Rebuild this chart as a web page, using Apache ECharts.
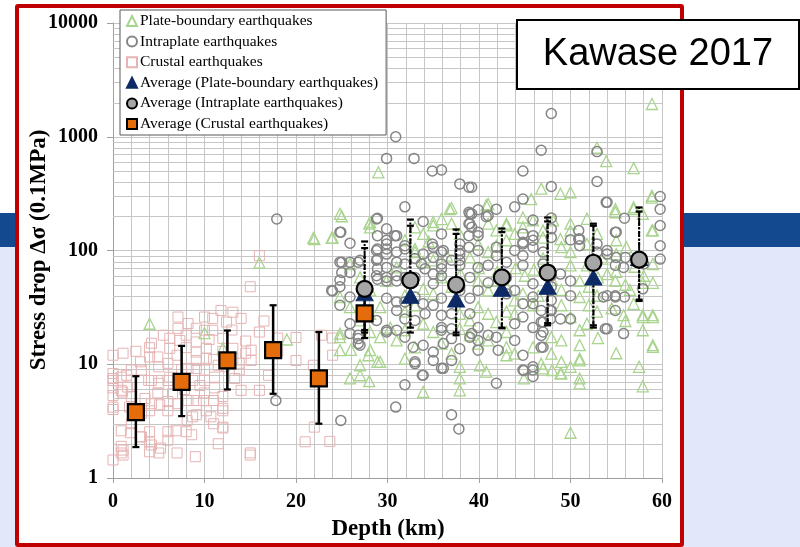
<!DOCTYPE html>
<html>
<head>
<meta charset="utf-8">
<script src="https://cdn.jsdelivr.net/npm/echarts@6/dist/echarts.min.js"></script>
<style>
html,body{margin:0;padding:0;width:800px;height:547px;overflow:hidden;}
body{background:linear-gradient(to bottom,#ffffff 0px,#ffffff 213px,#134a8f 213px,#134a8f 247px,#e2e8fa 247px,#e2e8fa 547px);}
#frame{position:absolute;left:15px;top:4px;width:669px;height:543px;border:4.5px solid #c00000;border-radius:3px;box-sizing:border-box;background:#ffffff;}
#chart{position:absolute;left:0;top:0;width:800px;height:547px;}
</style>
</head>
<body>
<div id="frame"></div>
<div id="chart"></div>
<script>
// ---------- data ----------
const xTicks = [0, 10, 20, 30, 40, 50, 60];
const yTicks = [1, 10, 100, 1000, 10000];
const minorGridValues = [2,3,4,5,6,7,8,9,20,30,40,50,60,70,80,90,200,300,400,500,600,700,800,900,2000,3000,4000,5000,6000,7000,8000,9000];

const crustalPoints = [
[0,1.44],[1.1,1.59],[1.1,1.76],[0,4.0],[0,5.3],[0,6.2],[0,7.2],[1.05,5.7],[1.9,2.5],[3.0,2.3],[4.0,2.55],[4.0,2.08],[4,1.7],[5.0,1.66],[6.0,2.15],[6,2.55],[7,1.66],[8,2.55],[9,1.54],[11,3.0],[12,2.75],[15,1.59],[16,5.9],[10.2,3.9],[12,4.1],[11,4.8],[9.9,4.8],[9.1,3.6],[8.1,3.2],[5.1,4.4],[4,3.9],[6,4.7],[5,6.8],[3.9,7.2],[6.2,7.7],[1.5,8.0],[0,8.3],[23.7,2.1],[21,2.08],[22,2.8],
[4.2,15.3],[1.1,12.5],[0,12],[7.1,26],[8.2,22.8],[9.1,20.7],[10,26],[11.8,29.7],[13.1,28.7],[14,25.3],[12.4,23.5],[16,19.2],[20,17.2],[15.1,13.3],[15.1,10.8],[13.8,10.2],[13.8,8.9],[12,3.9],[12,2.8],[6.9,2.6],[4,14],[4,11.6],[4.9,11.6],[3.1,8.9],[2,8.9],[0.9,7.7],[0.9,5.9],[0,7.5],[0,4.2],[4.2,7.2],[4.9,5.6],[4.2,4.5],[6,7.2],[6,10.2],[6.2,13.8],[6.2,16.9],[7.1,20.7],[7.3,16.2],[9.1,15.7],[9.1,12.8],[10.2,13.8],[10.2,11.3],[9.1,10.8],[9.1,9.2],[8.2,9.2],[10,8.9],[10,7.2],[11.1,7.7],[11.1,6.2],[10,5.6],[9.1,4.8],[8.2,4.8],[8.7,3.45],[10.7,3.45],[12,5.2],[13.1,13.8],[13.1,11.3],[12,16.9],[10.9,19.9],[10.9,25.3],[10,19.9],[8,18],[12.2,9.5],[13.3,7.5],[14,5.9],[8.7,7.2],[7.1,4.5],[6,3.9],[3.1,3.7],[2,3.0],[0.9,2.6],[0.9,1.9],[0.9,1.66],[3.1,2.3],[4.2,1.95],[5.2,1.83],[8.6,2.4],[11.5,2.0],[1.6,6.3],[2,5.2],
[15,48],[16,90],[20,10.8],[21.9,9.8],[24,12],[22.8,18],[24,17],[15,1.66],
[5,9.5],[7,12],[8,14],[11,11],[12,13],[7.5,9],[9.5,6.5],[11.5,9.8],[3,10.5],[2.5,13],[5.5,18],[14.5,16],[13,20],[6.5,5.5],[7.8,6],[3.5,5],[1.8,4.2],[10.5,16.5],[14.5,12.5],[16.5,24],[18,17],[17,8],[18,13]
];

const intraplatePoints = [
[17.9,189],[17.8,4.8],[24.9,3.2],[30.9,4.2],[31.9,6.6],
[26.8,16.8],[27,14.7],[25.9,22.7],[25.9,18.6],[29.9,19.2],[31,19.9],[32.8,14.1],[33,10.1],[33.9,8],[35.9,9.2],[37,10.8],[35,12.8],[35.9,19.9],[37,3.6],[37.8,2.7],
[41.9,6.8],[45.9,7.8],[44.9,8.8],[33.8,8.0],
[44.8,8.9],[45.9,9.5],[44.8,12],[46.8,14.1],[46.8,17.9],[39.9,13.3],[39.9,16.2],[41.9,17.3],[39.2,18.6],[54.9,29.7],[53.8,20.5],[55.8,18.6],[50,25],[48.9,25],[47.8,25],[47.8,29.7],[46.8,23.5],[46.8,29.7],[45.9,34],[44.8,26],[57.9,46],[53.6,39],[54.9,39],[55.9,39],
[47.9,1600],[46.8,760],[52.9,740],[52.9,405],[44.8,500],[47.9,365],[53.9,265],[39.2,360],[44.8,283],[43.9,242],[45.9,185],[47.9,193],[55.9,192],[55,145],[59.8,298],[59.8,231],[59.8,166],[59.8,110],[58,76],[39.9,228],[40.8,198],[41.9,231],[39.2,210],[39.2,160],[39.9,135],[44.8,140],[44.8,118],[47.9,130],[47.9,155],[50.9,150],[50.9,126],[45.9,123],[45.9,107],[41.9,107],[39.9,100],[50,124],[54,93],[55,87],[56,87],[59.8,84],
[30.9,1000],[29.9,645],[32.9,645],[34.9,500],[35.9,510],[37.9,385],[38.9,360],[31.9,242],[33.9,180],[28.9,192],[29.9,155],[31,135],[24.9,145],[25.9,116],[25,79],[25.9,79],[26.8,79],[24.8,55],[24,44],[28.9,135],[28.9,103],[29.9,114],[29.9,93],[28.9,84],[28.9,69],[29.9,71],[31,79],[31,60],[29.9,54],[28.9,56],[33.9,93],[34.9,114],[35.9,140],[35.9,97],[35.9,76],[35.9,60],[37.9,100],[37.9,82],[37.9,48],[38.9,217],[38.9,172],[38.9,135],[38.9,107],[35,87],[31.9,103],[33.7,76],[31,97],[25,64],[25.9,64],
[31.9,110],[33,85],[35,107],[36.1,100],[35,62],[35,51],[35.9,38],[33.9,34],[33,24.3],[35.9,27],[35.9,21],[37,16.8],[37.9,13.7],[39,17.3],[39,27.8],[39.9,21],[41,18],[43.9,44.6],[44.8,34],[45.9,39],[45.9,51],[44.8,74],[44.8,90],[44.8,114],[45.9,135],[47,97],[47,76],[47.9,60],[47.9,48],[47.9,36.5],[47.9,29.7],[47,23.5],[47,19.2],[47,14.1],[45.9,8.9],[50,40],[50,54],[48.9,62],[51,126],[51,110],[52.9,97],[52.9,114],[54,100],[54,40],[54.9,40],[54,20.5],[54.9,74],[55.8,71],[54.9,145],[54,265],[41,202],[39,210],[39,172],[39.9,145],[37.9,114],[37.9,93],[37.9,74],[39,58],[39.9,71],[41,74],[41,52],[39.9,44.6],[39,38],[43,41.6],[43.9,100],[43,79],[41.9,90],[43,58],[45.9,21],[43.9,22.7],[43.9,16.2],[42.1,13.3],[36.1,15.2],[35,10.8],[36.1,9.2],[33,10.5],[33.9,14.7],[31.9,17.3],[31.9,25],[31.9,35.3],[34.1,27.8],[35,33],[37,27.8],[37,20.5],[37.9,44.6],[37,82],[35.9,69],[34.1,69],[33,58],[33,39],[31.9,58],[31.9,76],
[24.8,145],[28.8,189],[30.8,135],[24.8,79],[27,82],[23.9,44.6],[24.8,48],[24.8,33],[25.9,39],[26.8,18],[26.8,15.2],[28.8,100],[29.9,103],[29.9,123],[28.8,82],[28.8,60],[29.9,58],[31,54],[29.9,38],[31,35.3],[31,29.7],[29.9,19.9],[28.8,24.3]
];

const plateBoundaryPoints = [
[4,22.7],[10,18.8],[12,13.8],[19,16.5],[16,78],[21.9,129],[23.9,129],[24.8,210],[28,172],
[25.9,7.5],[27,8.0],[28,7.1],[27.9,12],[28.9,10.5],[33.9,5.7],[31.9,11.2],[26,13.4],[24.8,17.3],[37.9,7.5],[37.9,5.9],
[51,7.5],[51,6.8],[50,2.5],[57.9,6.4],[40.8,8.6],[44.9,7.5],[49,8.3],
[51,11.2],[59,14.2],[57.9,19.9],[57.9,27],[59,27],[48.9,8.3],[48,8.9],[46.8,10.1],[43,12],[40.1,9.8],[51,19.9],
[58.9,1940],[53.9,610],[56.9,530],[52.9,800],[46.8,350],[48.9,315],[50,325],[45.7,283],[58.9,292],[56.9,240],[54.9,217],[57.9,210],[44.8,195],[43,166],[51.8,190],[50,172],[40.8,250],[58.9,150],[52.9,140],[47,130],[48.9,126],
[29,487],[25,200],[22,126],[24,130],[37,236],[35,178],[28.1,160],[28.1,178],[33,103],[39,87],[29.9,54],
[36.8,231],[41,256],[54.9,231],[56.9,231],[58.9,303],[59,150],[59,76],[57.9,52],[59,52],[57.9,26],[59,26],[59,14.7],[56.9,34],[55.8,27],[54.9,54],[54,62],[55,123],[56.1,107],[55,93],[51.8,114],[51.8,74],[51,54],[51,39],[52.9,40],[52.9,29],[51.8,22.7],[51,14.7],[50,26],[49,33],[50,74],[50,97],[49,107],[50,150],[48.1,184],[47,150],[45.9,184],[44.8,160],[43.9,140],[43,172],[41.9,150],[41,172],[43,123],[41.9,110],[41,97],[39.9,114],[37.9,140],[37,172],[35.9,189],[35,166],[33.9,140],[33,160],[31.9,123],[33,97],[33.9,79],[35,82],[35.9,58],[37,48],[39.9,54],[41,44.6],[41.9,54],[43,48],[43.9,36.5],[44.8,41.6],[45.9,33],[43.9,27.8],[43,29],[41.9,23.5],[41,27.8],[39.9,31.8],[39,24.3],[37.9,27.8],[37.9,20.5],[39,18],[39.9,15.2],[41,16.2],[43,19.2],[43,14.1],[43.9,12.4],[45.9,14.1],[47.9,17.3],[49,16.2],[47.9,12.4],[49,10.5],[47,9.2],[50,9.5],[51,10.8],[35,41.6],[33.9,46],[31.9,40],[33,33],[31.9,29],[33.9,22.7],[35,19.2],[35.9,15.2],[37,12.4],[37.9,9.5],[33,14.1],[31.9,19.9],
[25.9,76],[27,58],[28.1,44.6],[31,71],[24.8,39],[25.9,31.8],[28.1,27.8],[29.2,31.8],[27,24.3],[24.8,18.6],[28.1,19.2],[29.2,17.3],[30.3,21],[31,16.2],[28.1,13.3],[29.2,10.5],[27,9.8],[24.8,13.3],
[45,60],[46,68],[48,55],[49,45],[52,48],[53,58],[55,65],[56,50],[57,72],[58,60],[56.5,45],[53.5,85],[47,85],[44,70],[42,65],[40,70],[38,62],[36.5,90],[34.5,120],[46.5,40],[52,33],[54.5,31],[56,24],[53,17],[55,12.5],[57.5,9.5]
];

// averages and error bars
const crustalDepths = [2.5, 7.5, 12.5, 17.5, 22.5, 27.5];
const crustalAvg    = [3.8, 7.0, 10.8, 13.3, 7.5, 28];
const crustalLow    = [1.87, 3.5, 6.0, 5.5, 3.0, 17];
const crustalHigh   = [7.85, 14.5, 19.8, 33, 19.2, 45];

const deepDepths    = [27.5, 32.5, 37.5, 42.5, 47.5, 52.5, 57.5];
const intraAvg      = [46, 54.6, 50, 58, 64, 78, 83];
const intraLow      = [20, 19, 18, 20.7, 22, 21, 36];
const intraHigh     = [120, 187, 153, 156, 195, 172, 239];
const plateAvg      = [42, 40, 37, 46, 48, 58, 86];
const plateLow      = [19, 21, 19, 21, 23, 22, 37];
const plateHigh     = [105, 165, 140, 145, 180, 165, 220];

// ---------- chart ----------
const chart = echarts.init(document.getElementById('chart'), null, {renderer: 'canvas'});
const GRID = '#c6c6c6';
const serif = '"Liberation Serif", "Times New Roman", serif';

function pairs(xs, ys) { return xs.map((x, i) => [x, ys[i]]); }
function triples(xs, lo, hi) { return xs.map((x, i) => [x, lo[i], hi[i]]); }

function errorRenderer(lineWidth, dash) {
  return function (params, api) {
    const x = api.value(0);
    const pLo = api.coord([x, api.value(1)]);
    const pHi = api.coord([x, api.value(2)]);
    const cap = 3.5;
    const st = {stroke: '#000', lineWidth: lineWidth, lineDash: dash};
    const capSt = {stroke: '#000', lineWidth: 2.2};
    return {
      type: 'group',
      children: [
        {type: 'line', shape: {x1: pLo[0], y1: pLo[1], x2: pHi[0], y2: pHi[1]}, style: st},
        {type: 'line', shape: {x1: pLo[0] - cap, y1: pLo[1], x2: pLo[0] + cap, y2: pLo[1]}, style: capSt},
        {type: 'line', shape: {x1: pHi[0] - cap, y1: pHi[1], x2: pHi[0] + cap, y2: pHi[1]}, style: capSt}
      ]
    };
  };
}

const hollow = 'rgba(255,255,255,0)';

const option = {
  animation: false,
  grid: {left: 113, right: 138, top: 23, bottom: 69, containLabel: false},
  legend: {
    left: 120, top: 10, orient: 'vertical',
    backgroundColor: '#ffffff', borderColor: '#595959', borderWidth: 1,
    padding: [3, 8, 3, 6], itemGap: 4.6, itemWidth: 10, itemHeight: 10,
    textStyle: {fontFamily: serif, fontSize: 15.5, color: '#000', lineHeight: 16, padding: [0, 0, 0, -2]},
    data: ['Plate-boundary earthquakes', 'Intraplate earthquakes', 'Crustal earthquakes',
           'Average (Plate-boundary earthquakes)', 'Average (Intraplate earthquakes)', 'Average (Crustal earthquakes)'],
    z: 20
  },
  xAxis: {
    type: 'value', min: xTicks[0], max: xTicks[xTicks.length - 1], interval: 10,
    axisLine: {show: true, lineStyle: {color: '#a0a0a0', width: 1}},
    axisTick: {show: true, length: 5, lineStyle: {color: '#a0a0a0'}},
    minorTick: {show: false, splitNumber: 5},
    splitLine: {show: true, lineStyle: {color: GRID, width: 1}},
    minorSplitLine: {show: true, lineStyle: {color: GRID, width: 1}},
    axisLabel: {fontFamily: serif, fontWeight: 'bold', fontSize: 20, color: '#000', margin: 14}
  },
  yAxis: {
    type: 'log', logBase: 10, min: yTicks[0], max: yTicks[yTicks.length - 1],
    axisLine: {show: true, lineStyle: {color: '#a0a0a0', width: 1}},
    axisTick: {show: true, length: 6, lineStyle: {color: '#a0a0a0'}},
    splitLine: {show: true, lineStyle: {color: GRID, width: 1}},
    axisLabel: {fontFamily: serif, fontWeight: 'bold', fontSize: 20, color: '#000', margin: 15,
      formatter: v => String(Math.round(v))}
  },
  graphic: [
    {type: 'text', x: 39, y: 250, rotation: Math.PI / 2, z: 10,
      style: {text: 'Stress drop Δσ (0.1MPa)', fontFamily: serif, fontWeight: 'bold', fontSize: 23,
        fill: '#000', align: 'center', verticalAlign: 'middle'}},
    {type: 'text', x: 388, y: 529, z: 10,
      style: {text: 'Depth (km)', fontFamily: serif, fontWeight: 'bold', fontSize: 23,
        fill: '#000', align: 'center', verticalAlign: 'middle'}},
    {type: 'rect', z: 100, shape: {x: 517, y: 20, width: 282, height: 69},
      style: {fill: '#ffffff', stroke: '#000000', lineWidth: 2}},
    {type: 'text', x: 658, y: 55, z: 101,
      style: {text: 'Kawase 2017', fontFamily: '"Liberation Sans", Arial, sans-serif', fontSize: 38,
        fill: '#000', align: 'center', verticalAlign: 'middle'}}
  ],
  series: [
    {
      type: 'custom', name: 'minorGrid', silent: true, z: 1,
      data: minorGridValues.map(v => [0, v]),
      encode: {x: 0, y: 1},
      renderItem: function (params, api) {
        const v = api.value(1);
        const p0 = api.coord([xTicks[0], v]);
        const p1 = api.coord([xTicks[xTicks.length - 1], v]);
        const y = Math.round(p0[1]) + 0.5;
        return {type: 'line', shape: {x1: p0[0], y1: y, x2: p1[0], y2: y}, style: {stroke: GRID, lineWidth: 1}};
      }
    },
    {
      name: 'Crustal earthquakes', type: 'scatter', data: crustalPoints, symbol: 'rect', symbolSize: 10, z: 2,
      silent: true, itemStyle: {color: hollow, borderColor: '#e6b4b4', borderWidth: 1, opacity: 1}
    },
    {
      name: 'Plate-boundary earthquakes', type: 'scatter', data: plateBoundaryPoints, symbol: 'triangle', symbolSize: 11, z: 3,
      silent: true, itemStyle: {color: hollow, borderColor: '#a9d48e', borderWidth: 1.3, opacity: 1}
    },
    {
      name: 'Intraplate earthquakes', type: 'scatter', data: intraplatePoints, symbol: 'circle', symbolSize: 10, z: 4,
      silent: true, itemStyle: {color: hollow, borderColor: '#858585', borderWidth: 1.5, opacity: 1}
    },
    {
      type: 'custom', name: 'errCrustal', silent: true, z: 5,
      data: triples(crustalDepths, crustalLow, crustalHigh), encode: {x: 0, y: [1, 2]},
      renderItem: errorRenderer(2.5, null)
    },
    {
      type: 'custom', name: 'errIntra', silent: true, z: 5,
      data: triples(deepDepths, intraLow, intraHigh), encode: {x: 0, y: [1, 2]},
      renderItem: errorRenderer(2, [2, 2])
    },
    {
      type: 'custom', name: 'errPlate', silent: true, z: 5,
      data: triples(deepDepths, plateLow, plateHigh), encode: {x: 0, y: [1, 2]},
      renderItem: errorRenderer(2, [5, 2, 1.5, 2])
    },
    {
      name: 'Average (Plate-boundary earthquakes)', type: 'scatter', data: pairs(deepDepths, plateAvg),
      symbol: 'triangle', symbolSize: [17, 15], z: 6, silent: true,
      itemStyle: {color: '#0d2a66', borderColor: '#0d2a66', borderWidth: 1, opacity: 1}
    },
    {
      name: 'Average (Intraplate earthquakes)', type: 'scatter', data: pairs(deepDepths, intraAvg),
      symbol: 'circle', symbolSize: 16, z: 7, silent: true,
      itemStyle: {color: '#a6a6a6', borderColor: '#000', borderWidth: 2.2, opacity: 1}
    },
    {
      name: 'Average (Crustal earthquakes)', type: 'scatter', data: pairs(crustalDepths, crustalAvg),
      symbol: 'rect', symbolSize: 16, z: 8, silent: true,
      itemStyle: {color: '#e46c0a', borderColor: '#000', borderWidth: 2.2, opacity: 1}
    }
  ]
};
chart.setOption(option);
</script>
</body>
</html>
